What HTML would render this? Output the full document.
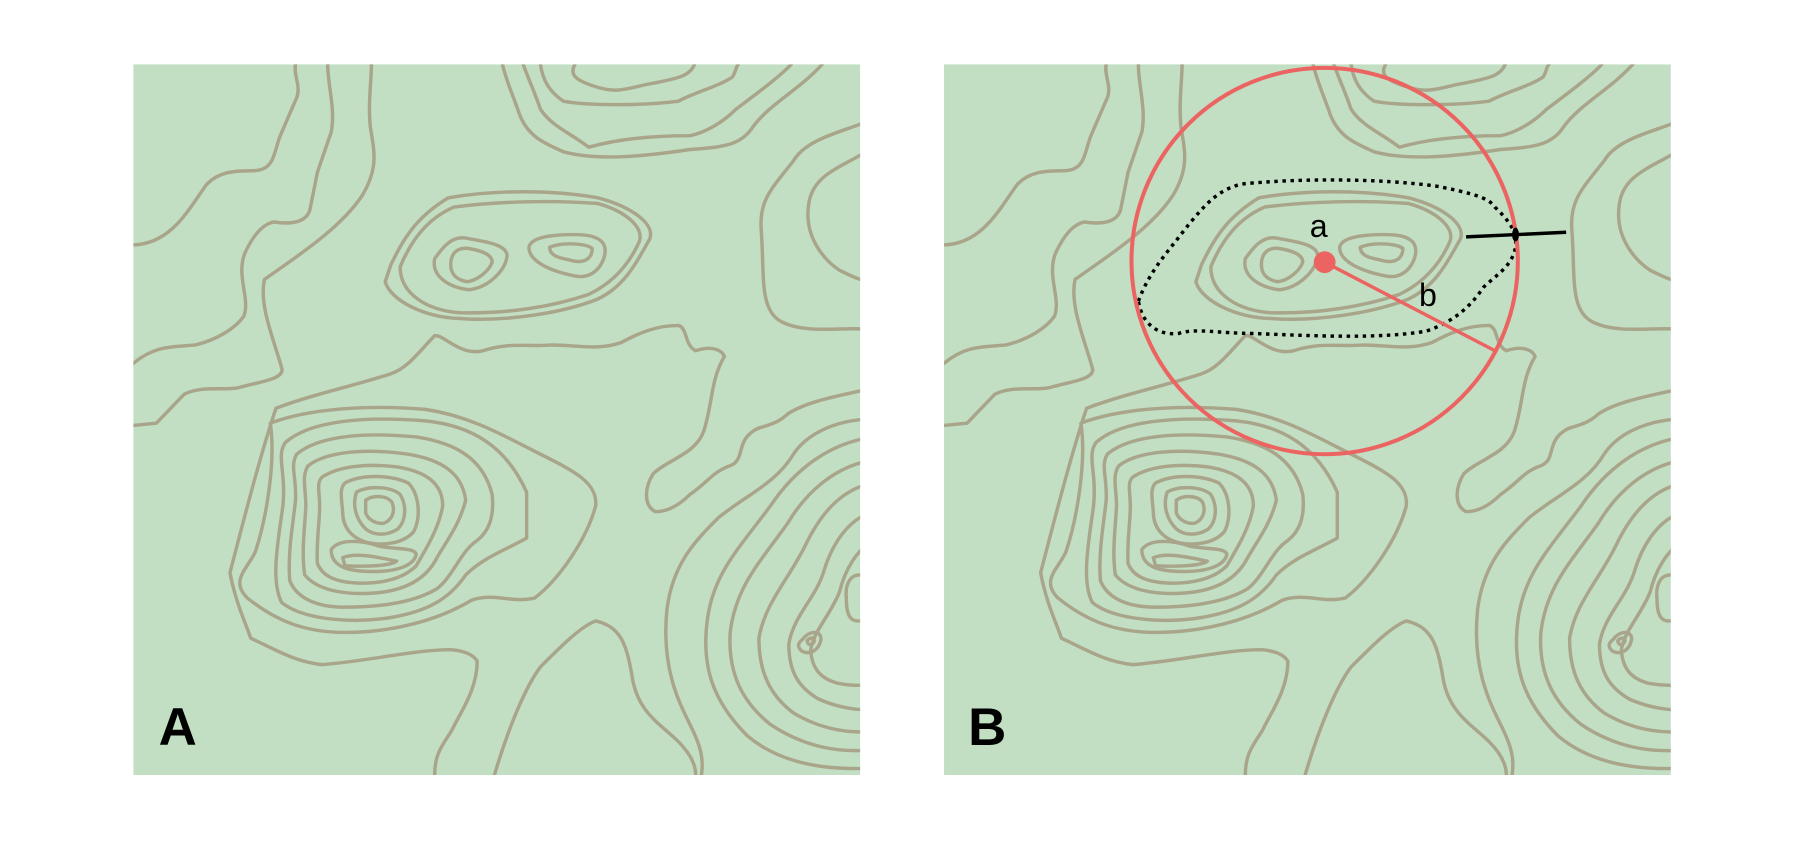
<!DOCTYPE html>
<html><head><meta charset="utf-8"><style>
html,body{margin:0;padding:0;background:#fff;}
svg{display:block;font-family:"Liberation Sans",Arial,sans-serif;}
</style></head><body>
<svg width="1803" height="850" viewBox="0 0 1568 739.2" preserveAspectRatio="none" xmlns="http://www.w3.org/2000/svg">
<defs>
<clipPath id="clipA"><rect x="116" y="56" width="632" height="618"/></clipPath>
<g id="contours" fill="none" stroke="#a9a58b" stroke-width="3" stroke-linejoin="round" stroke-linecap="round">
<path d="M116,213 C150,212 165,180 180,160 C195,145 215,150 225,148 C240,145 238,130 245,115 L258,85 C262,75 255,65 257,56"/>
<path d="M116,316 C135,300 150,302 170,300 C190,295 205,285 212,275 C218,260 205,240 213,220 C220,205 228,195 238,193 C250,195 268,195 270,180 L276,150 L288,115 C292,95 285,75 285,56"/>
<path d="M116,370 L136,368 L160,343 C175,335 195,340 208,337 C225,332 248,330 245,320 C238,295 225,265 230,243 C255,225 295,200 315,170 C330,145 325,130 322,110 C320,90 323,70 323,56"/>
<path d="M437,56 C440,70 447,85 452,100 C460,120 475,125 490,132 C520,140 560,136 600,130 C630,128 645,126 655,110 C670,90 695,78 715,56"/>
<path d="M455,56 C460,70 465,80 470,95 C480,110 495,115 512,128 C540,120 570,118 600,118 C615,115 630,105 640,95 C660,80 680,65 688,56"/>
<path d="M470,56 C472,70 478,80 490,88 C510,92 560,92 590,88 C605,80 625,75 637,67 C640,62 640,58 642,56"/>
<path d="M500,56 C495,65 500,70 520,76 C540,82 550,75 570,72 C590,68 600,66 604,56"/>
<path d="M748,108 C730,115 700,122 690,140 C670,165 660,175 662,200 C665,240 660,270 680,280 C700,290 730,285 748,286"/>
<path d="M748,135 C725,148 705,155 703,180 C700,205 715,225 730,235 C740,240 745,242 748,243"/>
<path d="M340,230 C350,210 360,190 390,172 C430,165 480,165 520,172 C550,180 570,195 565,208 C555,225 545,248 520,260 C490,272 440,280 400,277 C370,276 340,262 335,245 Z"/>
<path d="M348,232 C358,208 372,190 395,180 C435,175 480,174 520,177 C545,184 560,198 556,210 C548,228 535,245 512,256 C480,267 440,273 400,272 C372,270 348,256 348,232 Z"/>
<path d="M378,225 C385,215 393,205 405,207 C420,210 440,212 441,222 C440,235 425,250 408,252 C390,250 375,240 378,225 Z"/>
<path d="M392,230 C392,220 398,215 407,216 C420,218 428,222 428,228 C425,236 415,244 406,245 C396,243 392,238 392,230 Z"/>
<path d="M460,215 C462,206 480,204 500,204 C520,204 530,210 525,225 C520,238 510,242 500,240 C480,236 460,228 460,215 Z"/>
<path d="M478,215 C490,210 510,212 515,216 C515,225 508,230 495,226 C485,224 478,222 478,215 Z"/>
<path d="M748,340 C725,345 700,350 685,360 C672,372 660,370 655,375 C640,385 648,400 635,405 C620,410 615,420 600,430 C590,440 580,445 570,445 C560,440 560,425 568,412 C580,400 605,395 612,375 C620,350 618,330 630,310 C628,305 620,300 605,305 C595,300 598,285 590,283 C570,283 555,290 540,298 C520,305 500,300 480,300 C460,302 445,297 420,305 C400,310 385,290 378,292 C365,305 355,320 340,325 C310,335 275,342 240,355 C225,400 210,460 200,498 C205,525 215,545 218,555 C240,565 255,575 280,578 C320,575 360,565 392,565 C405,566 412,570 415,575 C415,600 400,620 393,635 C385,648 378,655 378,674"/>
<path d="M748,365 C720,368 700,380 690,395 C675,420 650,430 625,450 C605,470 585,490 580,530 C575,580 590,610 600,630 C610,650 612,660 610,674"/>
<path d="M430,674 C440,640 455,600 470,580 C490,560 505,545 518,540 C540,545 545,560 550,590 C555,620 575,630 590,645 C600,655 605,665 605,674"/>
<g>
<path d="M235,368 C270,355 320,352 370,356 C410,362 440,380 470,395 C500,410 520,420 518,440 C510,470 485,505 465,520 C445,525 430,515 410,522 C380,540 340,550 300,550 C265,550 240,540 215,520 C200,505 215,495 222,480 C232,450 240,400 235,368 Z"/>
<path d="M248,385 C270,365 320,362 370,366 C410,370 440,388 458,428 L458,468 C440,478 420,485 405,500 C390,522 370,532 340,537 C310,542 265,540 245,524 C235,505 242,470 246,440 C249,410 240,397 248,385 Z"/>
<path d="M258,395 C278,378 320,376 362,380 C395,385 420,398 428,430 C430,450 425,462 415,470 C400,480 395,500 380,512 C360,524 330,528 300,528 C275,528 258,520 252,505 C250,480 255,455 257,435 C258,415 252,405 258,395 Z"/>
<path d="M268,405 C285,392 320,390 355,395 C385,400 402,412 405,435 C400,455 390,468 380,485 C370,505 350,515 320,516 C295,517 275,512 265,500 C262,480 265,460 266,440 C266,425 262,414 268,405 Z"/>
<path d="M280,415 C295,405 320,403 345,406 C370,410 385,420 385,440 C382,458 372,475 362,492 C350,504 330,508 310,507 C290,506 280,500 276,490 C275,470 278,455 278,440 C278,428 275,420 280,415 Z"/>
<path d="M300,420 C315,412 340,413 355,420 C365,430 366,450 360,462 C352,472 335,475 320,472 C305,468 298,458 298,445 C297,433 295,425 300,420 Z"/>
<path d="M310,428 C320,422 340,423 348,430 C354,440 353,453 346,460 C337,466 325,466 318,460 C310,452 306,440 310,428 Z"/>
<path d="M318,435 C325,430 337,431 341,437 C344,445 341,452 334,455 C327,456 320,452 318,446 Z"/>
<path d="M288,478 C295,468 315,470 330,475 C345,478 360,476 362,482 C360,492 345,497 325,497 C305,497 288,494 288,478 Z"/>
<path d="M298,485 C310,480 330,485 345,488 C340,492 320,493 300,492 Z"/>
</g>
<g>
<path d="M760,380 C720,385 690,410 670,440 C640,480 620,500 615,540 C610,580 620,610 650,640 C680,665 720,670 760,668"/>
<path d="M760,400 C725,405 700,430 685,455 C660,490 640,510 635,550 C633,585 645,610 670,630 C700,650 730,655 760,652"/>
<path d="M760,420 C730,425 712,450 700,475 C685,505 665,525 660,555 C660,585 670,605 690,620 C715,635 740,638 760,636"/>
<path d="M760,445 C740,450 725,470 717,495 C710,520 690,535 686,560 C686,585 695,598 712,608 C730,616 748,618 760,617"/>
<path d="M760,470 C745,478 735,495 730,515 C722,535 708,548 705,565 C706,582 714,590 728,594 C742,597 752,596 760,595"/>
<path d="M748,500 C738,500 735,510 736,520 C736,532 738,540 746,540 L748,540"/>
<path d="M698,556 C704,548 714,548 714,556 C712,566 704,570 697,566 C693,562 694,559 698,556 Z"/>
<path d="M702,557 C705,554 709,554 708,558 C706,562 702,561 702,557 Z"/>
</g>
</g>
</defs>
<rect x="116" y="56" width="632" height="618" fill="#c2dfc4"/>
<g clip-path="url(#clipA)"><use href="#contours"/></g>
<text x="138" y="648" font-size="46" font-weight="bold" fill="#000">A</text>

<rect x="821" y="56" width="632" height="618" fill="#c2dfc4"/>
<g transform="translate(705,0)" clip-path="url(#clipA)"><use href="#contours"/></g>
<path d="M990,262 C1000,235 1015,220 1030,200 C1050,175 1060,165 1080,160 C1130,155 1200,155 1250,162 C1280,168 1295,172 1300,180 C1310,190 1320,200 1318,215 C1315,232 1300,240 1290,250 C1280,265 1265,280 1240,288 C1200,295 1140,292 1090,290 C1060,290 1040,285 1025,290 C1005,292 993,280 990,262 Z" fill="none" stroke="#000" stroke-width="3" stroke-dasharray="3,4"/>
<circle cx="1152" cy="227" r="168" fill="none" stroke="#ec6461" stroke-width="3.5"/>
<line x1="1152" y1="228" x2="1302" y2="306" stroke="#ec6461" stroke-width="3"/>
<circle cx="1152" cy="228" r="9.5" fill="#ec6461"/>
<line x1="1275" y1="206" x2="1362" y2="202" stroke="#000" stroke-width="3"/>
<ellipse cx="1318" cy="204" rx="3" ry="6" fill="#000"/>
<text x="1139" y="206" font-size="28" fill="#000">a</text>
<text x="1234" y="266" font-size="28" fill="#000">b</text>
<text x="842" y="648" font-size="46" font-weight="bold" fill="#000">B</text>
</svg>
</body></html>
